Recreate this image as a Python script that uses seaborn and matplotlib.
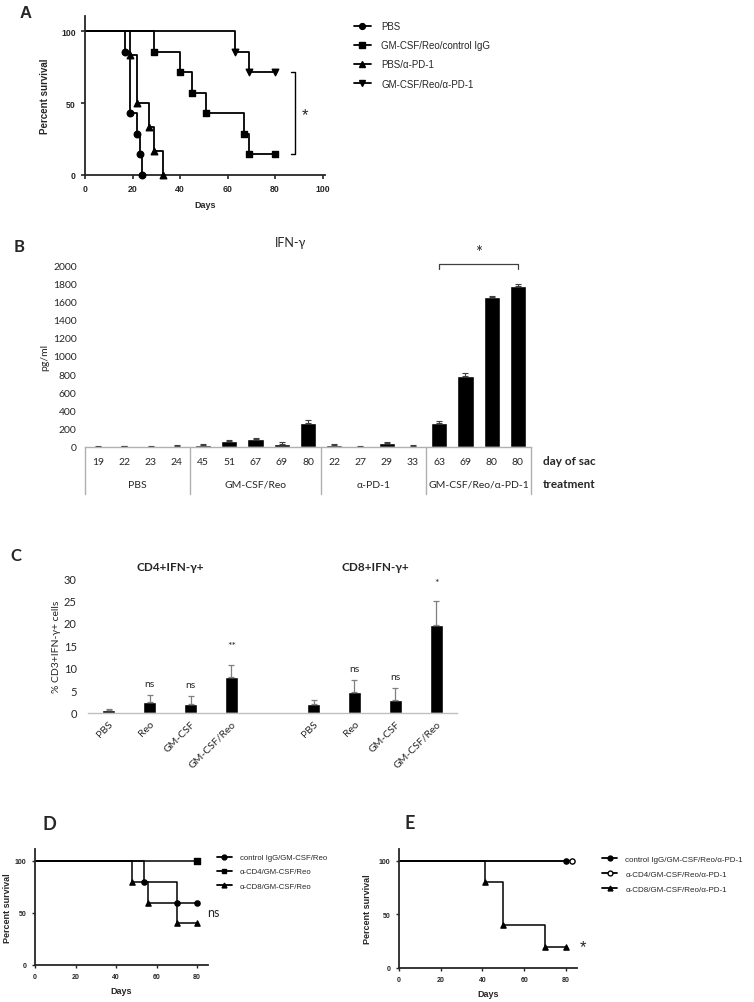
import numpy as np
import pandas as pd
import matplotlib
matplotlib.use("Agg")
import matplotlib.pyplot as plt
import matplotlib.transforms as mtransforms
from matplotlib.lines import Line2D
import seaborn as sns

# ---- A: Kaplan-Meier, percent survival vs days ----
a_labels = ["PBS", "GM-CSF/Reo/control IgG", "PBS/α-PD-1", "GM-CSF/Reo/α-PD-1"]
a_pbs_days = [0, 17, 19, 22, 23, 24]
a_pbs_surv = [100, 85.7, 42.9, 28.6, 14.3, 0]
a_igg_days = [0, 29, 40, 45, 51, 67, 69, 80]
a_igg_surv = [100, 85.7, 71.4, 57.1, 42.9, 28.6, 14.3, 14.3]
a_pd1_days = [0, 19, 22, 27, 29, 33]
a_pd1_surv = [100, 83.3, 50, 33.3, 16.7, 0]
a_combo_days = [0, 63, 69, 80]
a_combo_surv = [100, 85.7, 71.4, 71.4]
a_markers = ["o", "s", "^", "v"]

# ---- B: IFN-gamma ELISA ----
b_treatments = ["PBS", "GM-CSF/Reo", "α-PD-1", "GM-CSF/Reo/α-PD-1"]
b_days_sac = [[19, 22, 23, 24], [45, 51, 67, 69, 80], [22, 27, 29, 33], [63, 69, 80, 80]]
b_ifng = [[5, 10, 3, 15], [20, 65, 87, 35, 264], [25, 5, 40, 8], [267, 777, 1645, 1769]]
b_err = [[5, 6, 4, 6], [18, 10, 10, 25, 28], [6, 4, 10, 16], [15, 40, 14, 22]]

# ---- C: % CD3+IFN-g+ cells ----
c_groups = ["PBS", "Reo", "GM-CSF", "GM-CSF/Reo"]
c_cd4 = [0.6, 2.4, 2.1, 8.1]
c_cd4_err = [0.3, 1.5, 1.7, 2.6]
c_cd8 = [1.9, 4.7, 2.9, 19.5]
c_cd8_err = [1.1, 2.6, 2.7, 5.4]
c_cd4_sig = ["", "ns", "ns", "**"]
c_cd8_sig = ["", "ns", "ns", "*"]

# ---- D: depletion, GM-CSF/Reo ----
d_labels = ["control IgG/GM-CSF/Reo", "α-CD4/GM-CSF/Reo", "α-CD8/GM-CSF/Reo"]
d_ctrl_days = [0, 54, 70, 80]
d_ctrl_surv = [100, 80, 60, 60]
d_cd4_days = [0, 80]
d_cd4_surv = [100, 100]
d_cd8_days = [0, 48, 56, 70, 80]
d_cd8_surv = [100, 80, 60, 40, 40]

# ---- E: depletion, GM-CSF/Reo/a-PD-1 ----
e_labels = ["control IgG/GM-CSF/Reo/α-PD-1", "α-CD4/GM-CSF/Reo/α-PD-1", "α-CD8/GM-CSF/Reo/α-PD-1"]
e_ctrl_days = [0, 80]
e_ctrl_surv = [100, 100]
e_cd4_days = [0, 83]
e_cd4_surv = [100, 100]
e_cd8_days = [0, 41, 50, 70, 80]
e_cd8_surv = [100, 80, 40, 20, 20]

sns.set_style("ticks")
plt.rcParams["font.family"] = ["Lato", "DejaVu Sans"]
GP = ["Liberation Sans", "DejaVu Sans"]   # GraphPad-looking panels
W, H = 754, 1003


def px_axes(fig, left, top, right, bottom):
    return fig.add_axes([left / W, 1 - bottom / H, (right - left) / W, (bottom - top) / H])


def survival(ax, curves, labels, markers, fills, msize, lw=1.3):
    rows = []
    for lab, (days, surv) in zip(labels, curves):
        for d, s in zip(days, surv):
            rows.append({"group": lab, "day": d, "surv": s})
    df = pd.DataFrame(rows)
    pal = {lab: "black" for lab in labels}
    sns.lineplot(data=df, x="day", y="surv", hue="group", palette=pal, estimator=None,
                 drawstyle="steps-post", linewidth=lw, legend=False, ax=ax, sort=True)
    pts = df[df["day"] > 0]
    for lab, m, f in zip(labels, markers, fills):
        sub = pts[pts["group"] == lab]
        sns.scatterplot(data=sub, x="day", y="surv", marker=m, s=msize,
                        color="black" if f else "white", edgecolor="black",
                        linewidth=1.0, ax=ax, zorder=5, clip_on=False, legend=False)
    for s in ["top", "right"]:
        ax.spines[s].set_visible(False)
    for s in ["left", "bottom"]:
        ax.spines[s].set_linewidth(1.3)
    ax.set_xlabel("")
    ax.set_ylabel("")
    ax.tick_params(width=1.2, length=3, direction="out")


def gp_ticks(ax, size):
    for t in ax.get_xticklabels() + ax.get_yticklabels():
        t.set_fontfamily(GP)
        t.set_fontsize(size)
        t.set_fontweight("bold")


def handles(markers, fills, ms):
    return [Line2D([], [], color="black", lw=1.3, marker=m, markersize=ms,
                   markerfacecolor="black" if f else "white", markeredgecolor="black")
            for m, f in zip(markers, fills)]


fig = plt.figure(figsize=(W / 100, H / 100), dpi=100)

# ================= A =================
axA = px_axes(fig, 85, 17, 325, 176)
survival(axA, [(a_pbs_days, a_pbs_surv), (a_igg_days, a_igg_surv),
               (a_pd1_days, a_pd1_surv), (a_combo_days, a_combo_surv)],
         a_labels, a_markers, [1, 1, 1, 1], 22)
axA.set_xlim(0, 101)
axA.set_ylim(0, 110.5)
axA.set_xticks([0, 20, 40, 60, 80, 100])
axA.set_yticks([0, 50, 100])
gp_ticks(axA, 6.3)
axA.set_xlabel("Days", fontsize=6.5, fontweight="bold", family=GP, labelpad=5)
axA.set_ylabel("Percent survival", fontsize=7, fontweight="bold", family=GP, labelpad=8)
# significance bracket
axA.plot([86.5, 88.5, 88.5, 86.5], [71.4, 71.4, 14.3, 14.3], color="black", lw=1.0, clip_on=False)
axA.text(92.5, 42, "*", fontsize=12, ha="center", va="center", family=GP)
fig.legend(handles(a_markers, [1, 1, 1, 1], 4.2), a_labels, loc="upper left",
           bbox_to_anchor=(354 / W, 1 - 22 / H), frameon=False,
           prop={"family": GP, "size": 7}, handlelength=1.7, handletextpad=1.1,
           labelspacing=0.95, borderaxespad=0, borderpad=0)
fig.text(20 / W, 1 - 14 / H, "A", fontsize=12, fontweight="bold", family=GP, va="center")

# ================= B =================
axB = px_axes(fig, 85, 266, 531, 448)
b_pos, b_val, b_e, b_lab = [], [], [], []
i = 0
bounds = [-0.5]
for days, vals, errs in zip(b_days_sac, b_ifng, b_err):
    for d, v, e in zip(days, vals, errs):
        b_pos.append(i)
        b_val.append(v)
        b_e.append(e)
        b_lab.append(str(d))
        i += 1
    bounds.append(i - 0.5)
dfB = pd.DataFrame({"pos": b_pos, "val": b_val})
sns.barplot(data=dfB, x="pos", y="val", native_scale=True, color="black",
            width=0.62, errorbar=None, ax=axB, saturation=1)
axB.errorbar(b_pos, b_val, yerr=[np.zeros(len(b_e)), b_e], fmt="none",
             ecolor="#404040", elinewidth=0.8, capsize=2.2, capthick=0.8)
axB.set_xlim(-0.5, len(b_pos) - 0.5)
axB.set_ylim(0, 2000)
axB.set_yticks(np.arange(0, 2001, 200))
axB.set_xticks(b_pos)
axB.set_xticklabels(b_lab, fontsize=7.5)
axB.tick_params(axis="x", length=0, pad=7)
axB.tick_params(axis="y", length=0, labelsize=7.5, pad=6)
sns.despine(ax=axB, left=True)
axB.spines["bottom"].set_color("#b0b0b0")
axB.spines["bottom"].set_linewidth(1.0)
axB.set_xlabel("")
axB.set_ylabel("pg/ml", fontsize=7.5, labelpad=3)
trB = mtransforms.blended_transform_factory(axB.transData, axB.transAxes)
for b in bounds:
    axB.plot([b, b], [0, -0.26], color="#b0b0b0", lw=1.0, transform=trB, clip_on=False)
for k, name in enumerate(b_treatments):
    axB.text((bounds[k] + bounds[k + 1]) / 2, -0.205, name, transform=trB,
             ha="center", va="center", fontsize=7.5)
axB.text(len(b_pos) - 0.05, -0.075, "day of sac", transform=trB, ha="left",
         va="center", fontsize=8.5, fontweight="bold")
axB.text(len(b_pos) - 0.05, -0.2, "treatment", transform=trB, ha="left",
         va="center", fontsize=8.5, fontweight="bold")
# bracket over the combination group
axB.plot([13, 13, 16, 16], [1960, 2010, 2010, 1960], color="#404040", lw=0.9, clip_on=False)
axB.text(14.5, 2140, "*", fontsize=12, ha="center", va="center")
fig.text(290 / W, 1 - 243 / H, "IFN-γ", fontsize=9, ha="center", va="center")
fig.text(14 / W, 1 - 247 / H, "B", fontsize=12, fontweight="bold", va="center")

# ================= C =================
axC = px_axes(fig, 88, 579, 457, 714)
c_pos = list(range(len(c_groups))) + list(range(len(c_groups) + 1, 2 * len(c_groups) + 1))
c_val = c_cd4 + c_cd8
c_e = c_cd4_err + c_cd8_err
dfC = pd.DataFrame({"pos": c_pos, "val": c_val})
sns.barplot(data=dfC, x="pos", y="val", native_scale=True, color="black",
            width=0.34, errorbar=None, ax=axC, saturation=1)
axC.errorbar(c_pos, c_val, yerr=[np.zeros(len(c_e)), c_e], fmt="none",
             ecolor="#7f7f7f", elinewidth=0.9, capsize=2.5, capthick=0.9)
for p, v, e, s in zip(c_pos, c_val, c_e, c_cd4_sig + c_cd8_sig):
    if s:
        y = v + e + (2.6 if s == "ns" else 4.2)
        axC.text(p, y, s, ha="center", va="center", fontsize=7.5)
axC.set_xlim(-0.5, 8.5)
axC.set_ylim(0, 30)
axC.set_yticks(range(0, 31, 5))
axC.set_xticks(c_pos)
axC.set_xticklabels(c_groups + c_groups, rotation=45, ha="right",
                    rotation_mode="anchor", fontsize=7.5)
axC.tick_params(axis="x", length=0, pad=4)
axC.tick_params(axis="y", length=0, labelsize=8, pad=8)
sns.despine(ax=axC, left=True)
axC.spines["bottom"].set_color("#c0c0c0")
axC.spines["bottom"].set_linewidth(1.0)
axC.set_xlabel("")
axC.set_ylabel("% CD3+IFN-γ+ cells", fontsize=7.5, labelpad=2)
axC.text(1.5, 32.5, "CD4+IFN-γ+", ha="center", va="center", fontsize=8.5, fontweight="bold")
axC.text(6.5, 32.5, "CD8+IFN-γ+", ha="center", va="center", fontsize=8.5, fontweight="bold")
fig.text(10 / W, 1 - 556 / H, "C", fontsize=12, fontweight="bold", va="center")

# ================= D =================
axD = px_axes(fig, 35, 850, 208, 966)
survival(axD, [(d_ctrl_days, d_ctrl_surv), (d_cd4_days, d_cd4_surv), (d_cd8_days, d_cd8_surv)],
         d_labels, ["o", "s", "^"], [1, 1, 1], 14, lw=1.1)
axD.set_xlim(0, 85.4)
axD.set_ylim(0, 111.5)
axD.set_xticks([0, 20, 40, 60, 80])
axD.set_yticks([0, 50, 100])
gp_ticks(axD, 5)
axD.tick_params(length=2.5, width=1.0)
axD.set_xlabel("Days", fontsize=6.5, fontweight="bold", family=GP, labelpad=4)
axD.set_ylabel("Percent survival", fontsize=6.5, fontweight="bold", family=GP, labelpad=2)
axD.text(85, 51, "ns", fontsize=9, ha="left", va="center")
fig.legend(handles(["o", "s", "^"], [1, 1, 1], 3.5), d_labels, loc="upper left",
           bbox_to_anchor=(217 / W, 1 - 855 / H), frameon=False,
           prop={"family": GP, "size": 5.6}, handlelength=1.9, handletextpad=1.0,
           labelspacing=0.85, borderaxespad=0, borderpad=0)
fig.text(43 / W, 1 - 825 / H, "D", fontsize=13, fontweight="bold", va="center")

# ================= E =================
axE = px_axes(fig, 399, 850, 577, 969)
survival(axE, [(e_ctrl_days, e_ctrl_surv), (e_cd4_days, e_cd4_surv), (e_cd8_days, e_cd8_surv)],
         e_labels, ["o", "o", "^"], [1, 0, 1], 14, lw=1.1)
axE.set_xlim(0, 85.3)
axE.set_ylim(0, 111)
axE.set_xticks([0, 20, 40, 60, 80])
axE.set_yticks([0, 50, 100])
gp_ticks(axE, 5)
axE.tick_params(length=2.5, width=1.0)
axE.set_xlabel("Days", fontsize=6.5, fontweight="bold", family=GP, labelpad=4)
axE.set_ylabel("Percent survival", fontsize=6.5, fontweight="bold", family=GP, labelpad=5)
axE.text(88, 19.6, "*", fontsize=12, ha="center", va="center", family=GP)
fig.legend(handles(["o", "o", "^"], [1, 0, 1], 3.5), e_labels, loc="upper left",
           bbox_to_anchor=(602 / W, 1 - 856 / H), frameon=False,
           prop={"family": GP, "size": 5.8}, handlelength=1.9, handletextpad=1.0,
           labelspacing=0.95, borderaxespad=0, borderpad=0)
fig.text(405 / W, 1 - 824 / H, "E", fontsize=13, fontweight="bold", va="center")

fig.savefig("out.png", dpi=100)
